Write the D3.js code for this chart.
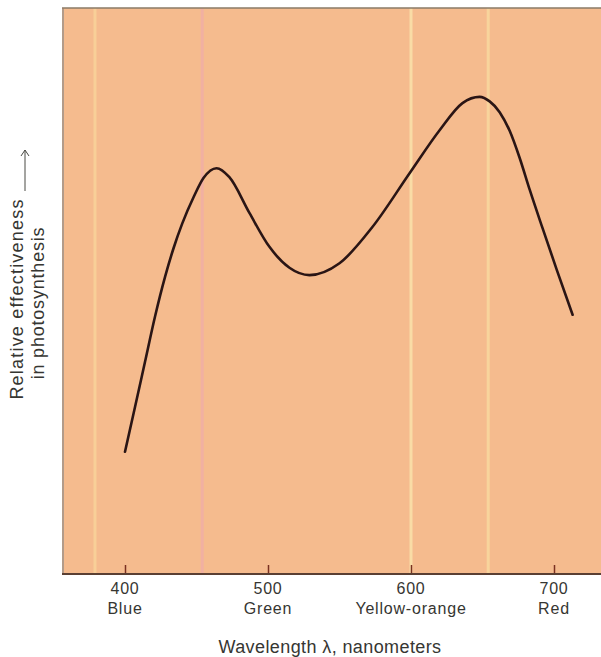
<!DOCTYPE html>
<html>
<head>
<meta charset="utf-8">
<script src="https://cdn.jsdelivr.net/npm/d3@7"></script>
<style>
    body { margin: 0; background: #fff; }
    svg text { font-family: "Liberation Sans", Arial, sans-serif; fill: #363632; }
</style>
</head>
<body>
<div id="container"></div>
<script>
// wavelength (nm) and relative effectiveness (0-100)
const wavelengths = [400, 407, 414, 421, 428, 434, 440, 448, 455, 464, 473, 487, 501, 515, 529,
    550, 573, 599, 620, 636, 648, 655, 662, 669, 676, 683, 692, 702, 713];
const effectiveness = [21.6, 29.5, 37.5, 45.5, 52.5, 57.6, 61.9, 66.6, 70.0, 71.7, 70.1, 63.8, 57.8, 54.1, 52.8,
    54.9, 61.3, 70.8, 78.4, 83.2, 84.3, 83.5, 81.6, 78.3, 73.5, 67.9, 61.1, 53.7, 45.8];
const tickValues = [400, 500, 600, 700];
const colorNames = ["Blue", "Green", "Yellow-orange", "Red"];
// pale streaks in the coloured backdrop (nm)
const streaks = [379, 454, 600, 654];
const streakColors = ["#f8cf98", "#f1b0a2", "#f9dca6", "#f8d49c"];

const W = 601;
const H = 657;
const plotLeft = 64;
const plotRight = 601;
const plotTop = 8;
const plotBottom = 574;

const x = d3.scaleLinear().domain([400, 700]).range([125, 554]);
const y = d3.scaleLinear().domain([0, 100]).range([plotBottom, plotTop]);

const svg = d3.select("#container").append("svg")
    .attr("width", W)
    .attr("height", H);

// backdrop
svg.append("rect")
    .attr("x", plotLeft)
    .attr("y", plotTop)
    .attr("width", plotRight - plotLeft)
    .attr("height", plotBottom - plotTop)
    .attr("fill", "#f5bb8e");

svg.selectAll(".streak")
    .data(streaks)
    .enter()
    .append("rect")
    .attr("class", "streak")
    .attr("x", (d) => x(d) - 1.5)
    .attr("y", plotTop)
    .attr("width", 3)
    .attr("height", plotBottom - plotTop)
    .attr("fill", (d, i) => streakColors[i]);

// frame: top and left edges
svg.append("line")
    .attr("x1", plotLeft - 2).attr("x2", plotRight)
    .attr("y1", plotTop).attr("y2", plotTop)
    .attr("stroke", "#8a7a66").attr("stroke-width", 1.5);
svg.append("line")
    .attr("x1", plotLeft - 1).attr("x2", plotLeft - 1)
    .attr("y1", plotTop).attr("y2", plotBottom)
    .attr("stroke", "#9a7a62").attr("stroke-width", 1.5);

// x axis, ticks pointing up into the plot
const axis = svg.append("g")
    .attr("transform", `translate(0,${plotBottom})`)
    .call(d3.axisBottom(x)
        .tickValues(tickValues)
        .tickSizeInner(-9)
        .tickSizeOuter(0)
        .tickFormat(""));
axis.select(".domain").remove();
axis.selectAll(".tick line").attr("stroke", "#7a3020").attr("stroke-width", 1.5);
svg.append("line")
    .attr("x1", plotLeft - 2).attr("x2", plotRight)
    .attr("y1", plotBottom).attr("y2", plotBottom)
    .attr("stroke", "#5a3f33").attr("stroke-width", 2);

// tick labels: number on top, colour name below
svg.selectAll(".tnum")
    .data(tickValues)
    .enter()
    .append("text")
    .attr("class", "tnum")
    .attr("x", (d) => x(d))
    .attr("y", 594)
    .attr("text-anchor", "middle")
    .style("font-size", "16px")
    .style("letter-spacing", "0.8px")
    .text((d) => d);
svg.selectAll(".tname")
    .data(tickValues)
    .enter()
    .append("text")
    .attr("class", "tname")
    .attr("x", (d) => x(d))
    .attr("y", 614)
    .attr("text-anchor", "middle")
    .style("font-size", "16px")
    .style("letter-spacing", "0.8px")
    .text((d, i) => colorNames[i]);

svg.append("text")
    .attr("x", 330)
    .attr("y", 653)
    .attr("text-anchor", "middle")
    .style("font-size", "18px")
    .style("letter-spacing", "0.4px")
    .text("Wavelength λ, nanometers");

// y label with arrow
const yl = svg.append("g").attr("transform", "translate(0,299) rotate(-90)");
yl.append("text")
    .attr("x", 0).attr("y", 23)
    .attr("text-anchor", "middle")
    .style("font-size", "18px")
    .style("letter-spacing", "1.2px")
    .text("Relative effectiveness");
yl.append("text")
    .attr("x", -4).attr("y", 44)
    .attr("text-anchor", "middle")
    .style("font-size", "18px")
    .style("letter-spacing", "0.8px")
    .text("in photosynthesis");
yl.append("line")
    .attr("x1", 108).attr("x2", 149)
    .attr("y1", 25).attr("y2", 25)
    .attr("stroke", "#4a4a44").attr("stroke-width", 1);
yl.append("path")
    .attr("d", "M143,21 L149,25 L143,29")
    .attr("fill", "none")
    .attr("stroke", "#4a4a44").attr("stroke-width", 1);

// the curve
const line = d3.line()
    .x((d) => x(d[0]))
    .y((d) => y(d[1]))
    .curve(d3.curveMonotoneX);

svg.append("path")
    .datum(wavelengths.map((w, i) => [w, effectiveness[i]]))
    .attr("d", line)
    .attr("fill", "none")
    .attr("stroke", "#2a1515")
    .attr("stroke-width", 2.6)
    .attr("stroke-linecap", "round");
</script>
</body>
</html>
